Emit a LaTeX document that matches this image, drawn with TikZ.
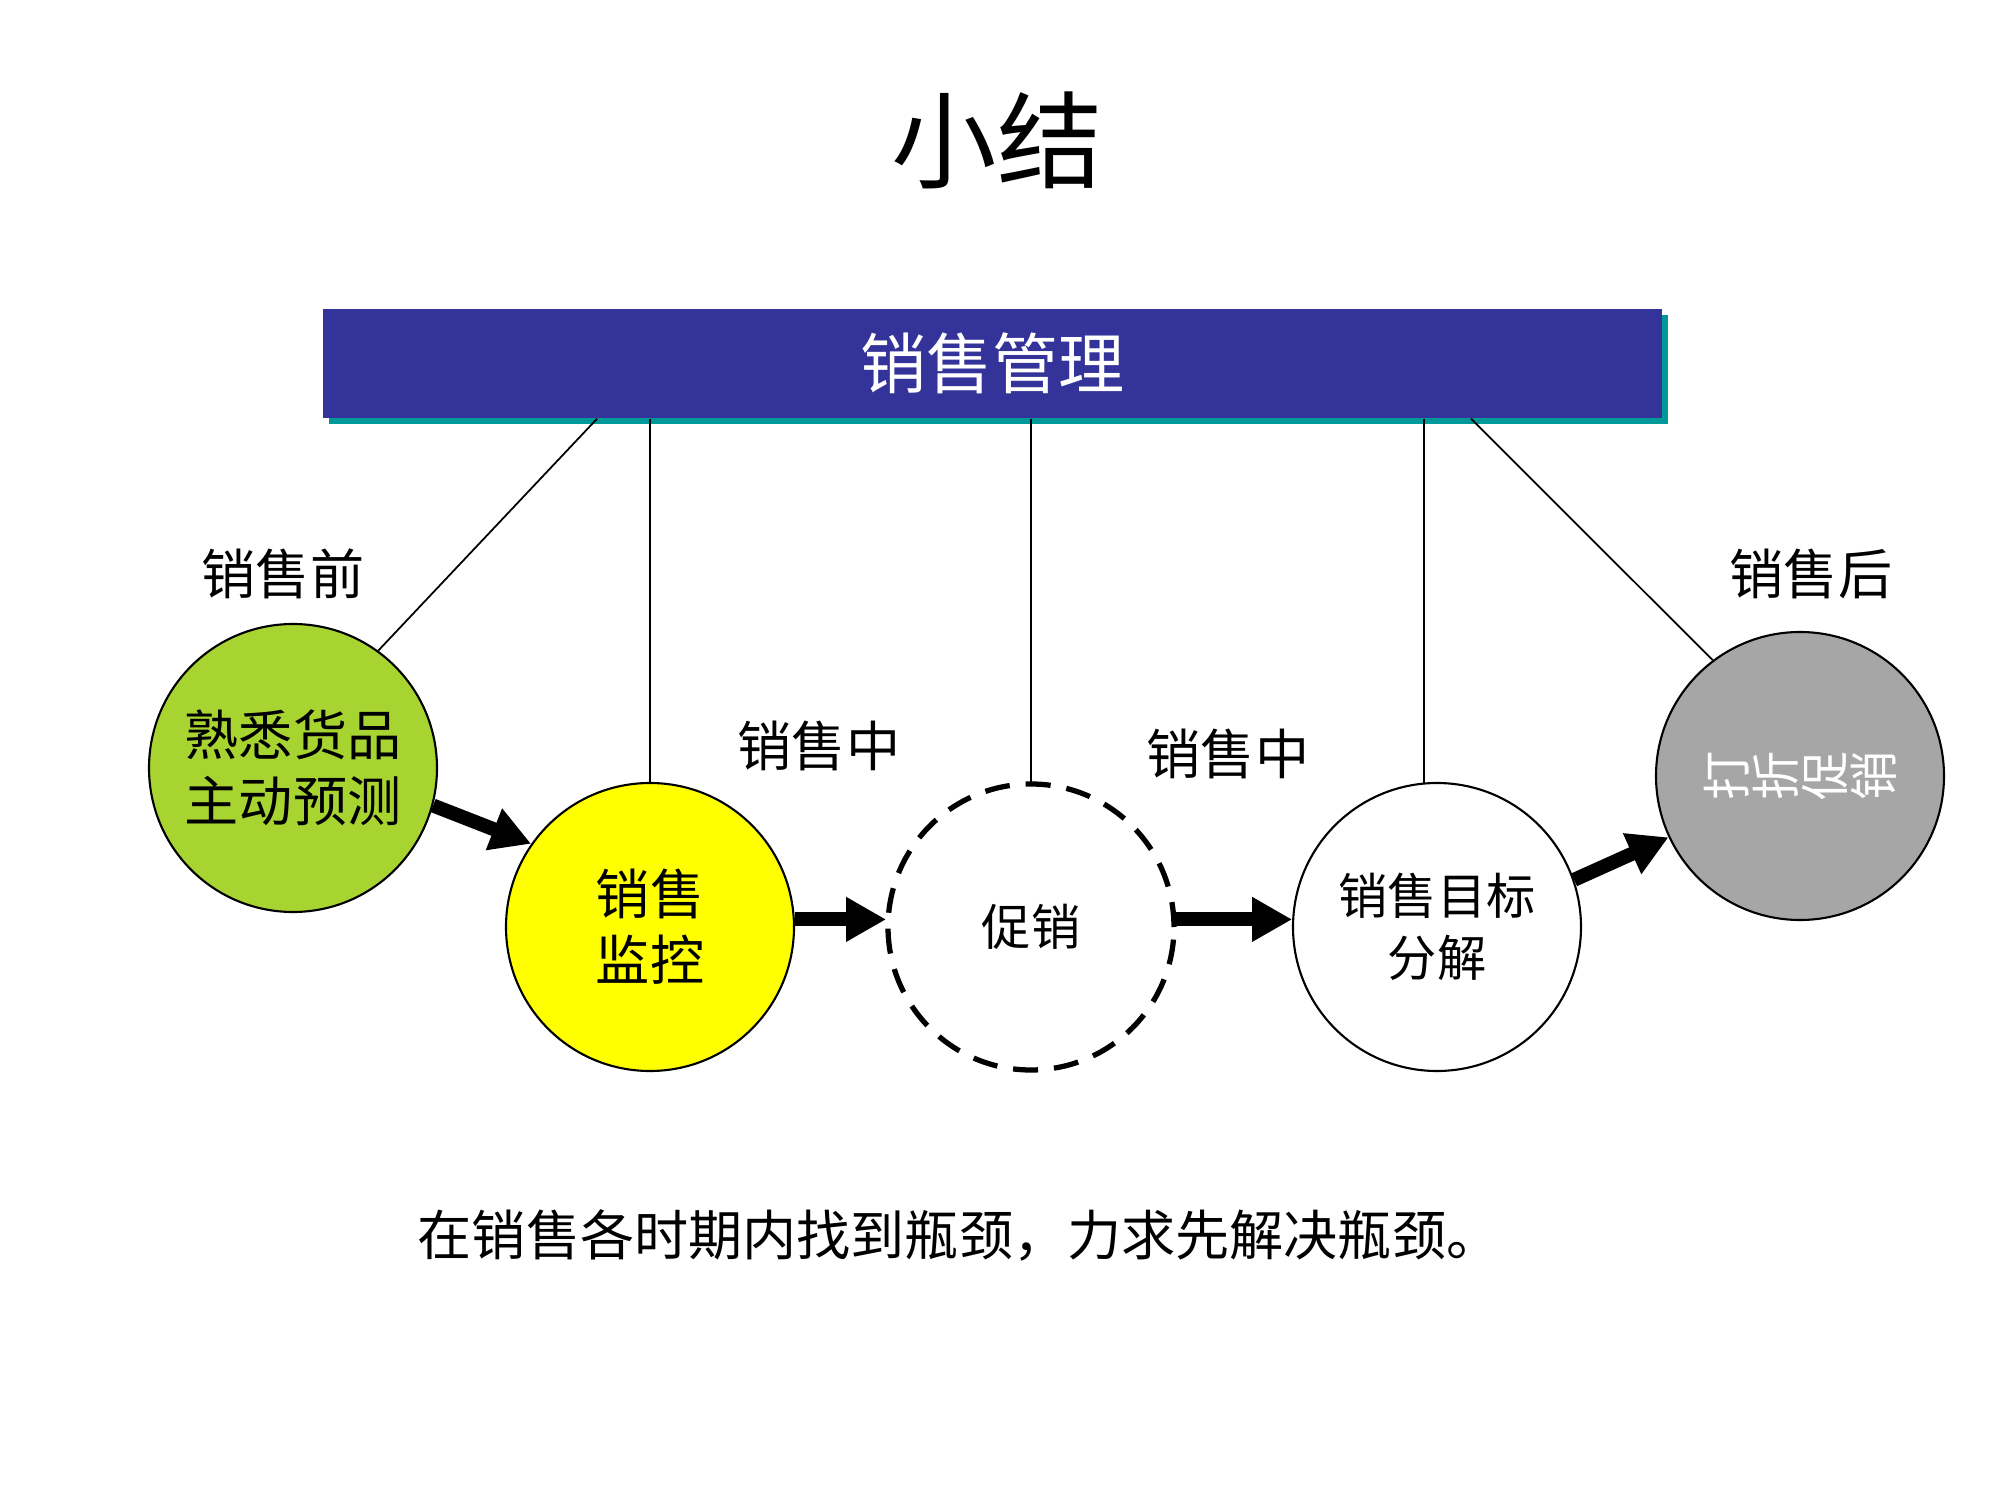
\documentclass[tikz,border=0pt]{standalone}
\usepackage{fontspec}
\setmainfont{Noto Sans CJK SC}
\usepackage{graphicx}
\usetikzlibrary{positioning,arrows.meta,shadows}
\definecolor{bannerblue}{RGB}{51,51,153}
\definecolor{bannerteal}{RGB}{0,153,153}
\definecolor{leafgreen}{RGB}{168,212,50}
\definecolor{monyellow}{RGB}{255,255,0}
\definecolor{discgray}{RGB}{166,166,166}
\newcommand{\sidechar}[1]{\makebox[1em]{\rotatebox[origin=c]{90}{#1}}}

\begin{document}
\begin{tikzpicture}[
      stage/.style={circle, draw, line width=0.6pt, minimum size=28.8mm,
                    inner sep=0pt, align=center, font=\fontsize{15.4}{18.8}\selectfont},
      phase/.style={font=\fontsize{15.4}{18}\selectfont},
      link/.style={line width=0.5pt},
      flow/.style={line width=1.4mm, -{Triangle[length=4mm, width=4.2mm]}}]
    \useasboundingbox (0,0) rectangle (20,15);
    \node (title) at (9.97,13.60) {\fontsize{30}{36}\selectfont 小结};
    \node[fill=bannerblue, minimum width=133.9mm, minimum height=10.9mm,
          text=white, font=\fontsize{18.8}{22}\selectfont,
          drop shadow={shadow xshift=0.6mm, shadow yshift=-0.6mm,
                       fill=bannerteal, opacity=1}]
      (banner) at (9.925,11.365) {销售管理};
    \path (banner.south west) -- (banner.south east)
      coordinate[pos=0.205] (b1) coordinate[pos=0.857] (b5);
    % stages
    \node[stage, fill=leafgreen] (prep) at (2.93,7.32) {熟悉货品\\主动预测};
    \node[stage, fill=monyellow] (monitor) at (6.50,5.73) {销售\\监控};
    \node[stage, draw=none] (promo) at (10.31,5.73) {\fontsize{14}{17}\selectfont 促销};
    \draw[line width=1.5pt, dash pattern=on 2.5mm off 1.6mm]
      (promo) circle (1.43);
    \node[stage, font=\fontsize{14}{17.5}\selectfont] (target) at (14.37,5.73) {销售目标\\分解};
    \node[stage, fill=discgray, text=white, font=\fontsize{14}{17}\selectfont]
      (discount) at (18.00,7.24) {\sidechar{打}\sidechar{折}\sidechar{促}\sidechar{销}};
    % phase labels
    \node[phase] (before) at (2.83,9.26) {销售前};
    \node[phase] (during1) at (8.19,7.54) {销售中};
    \node[phase] (during2) at (12.28,7.46) {销售中};
    \node[phase] (after) at (18.11,9.26) {销售后};
    % links to banner
    \draw[link] (b1) -- (prep.54);
    \draw[link] (banner.south -| monitor.north) -- (monitor.north);
    \draw[link] (banner.south -| promo.north) -- (promo.north);
    \draw[link] (banner.south -| target.95) -- (target.95);
    \draw[link] (b5) -- (discount.127);
    % flow arrows
    \draw[flow] (prep.-15) -- (monitor.145);
    \draw[flow] (monitor.3) -- (promo.177);
    \draw[flow] (promo.3) -- (target.177);
    \draw[flow] (target.19) -- (discount.205);
    \node[phase] (summary) at (9.59,2.65) {在销售各时期内找到瓶颈，力求先解决瓶颈。};
  \end{tikzpicture}
\end{document}
